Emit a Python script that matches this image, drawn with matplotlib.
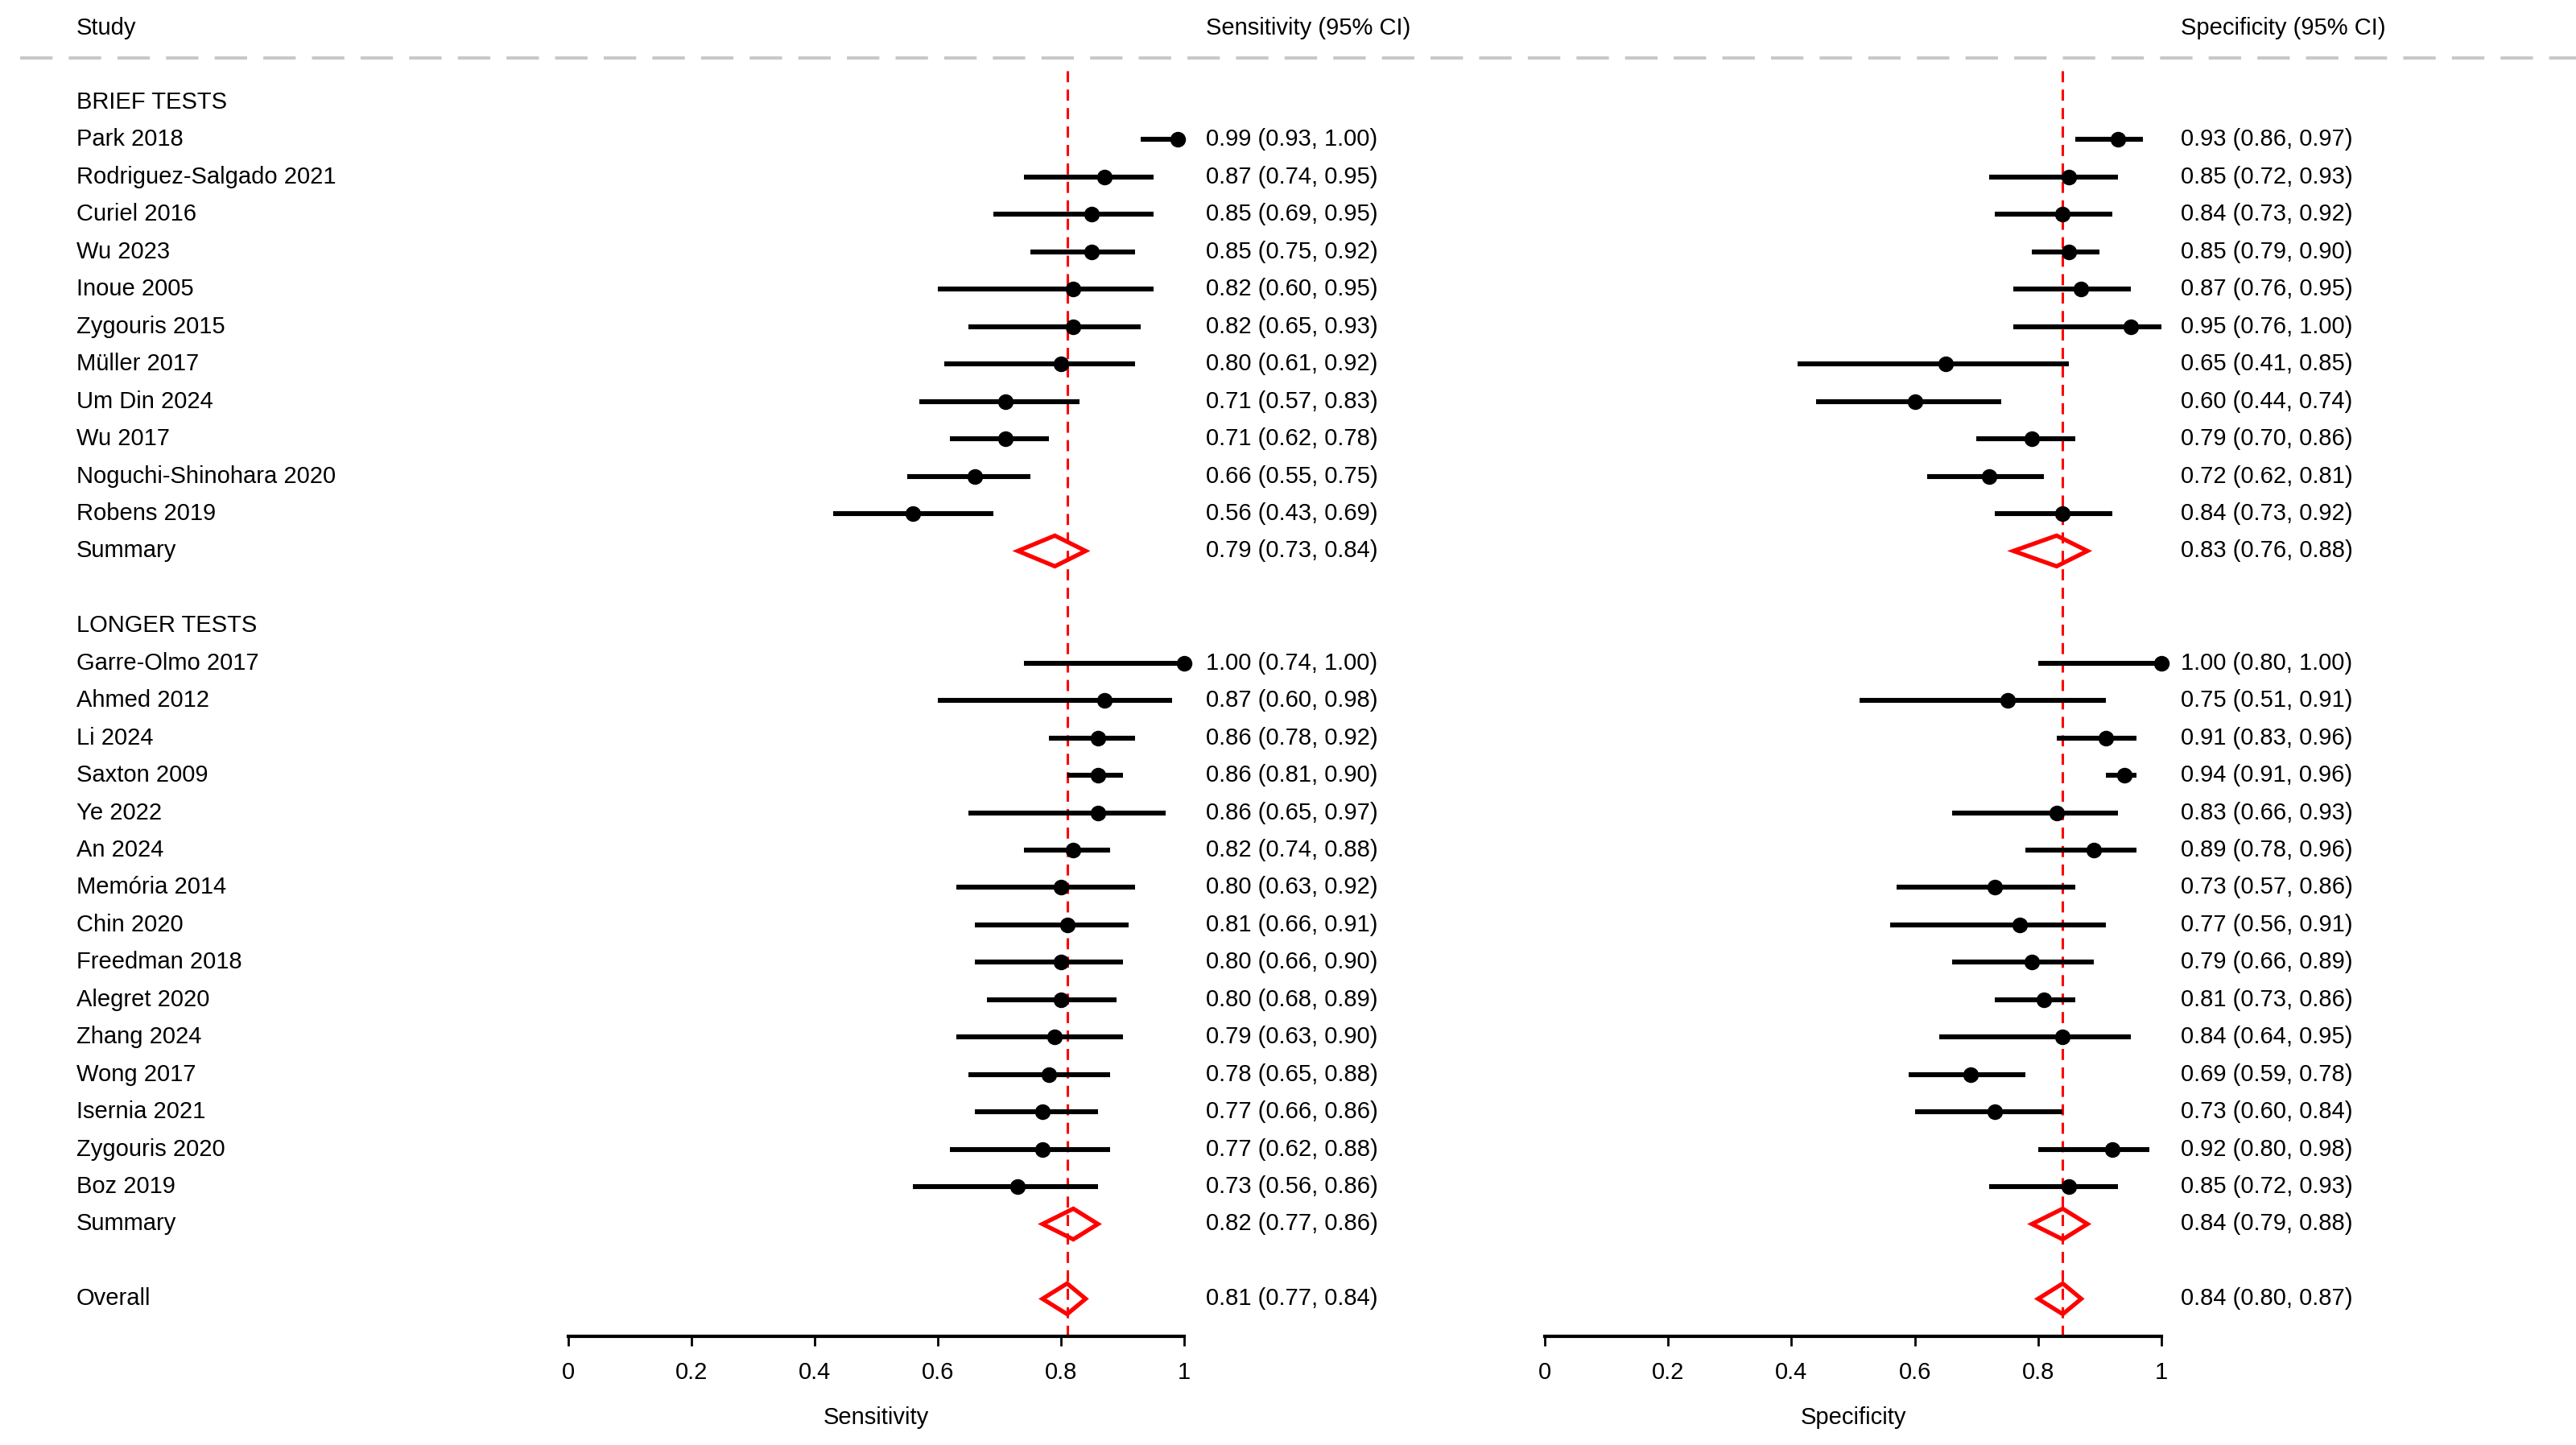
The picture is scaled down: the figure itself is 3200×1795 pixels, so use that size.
import matplotlib
matplotlib.use("Agg")
import matplotlib.pyplot as plt
import matplotlib.transforms as mtransforms
from matplotlib.lines import Line2D
from matplotlib.patches import Polygon

plt.rcParams['font.family'] = ['Liberation Sans', 'DejaVu Sans']

# ---- data ----
brief_studies = ["Park 2018", "Rodriguez-Salgado 2021", "Curiel 2016", "Wu 2023",
                 "Inoue 2005", "Zygouris 2015", "Müller 2017", "Um Din 2024",
                 "Wu 2017", "Noguchi-Shinohara 2020", "Robens 2019"]
brief_sens = [0.99, 0.87, 0.85, 0.85, 0.82, 0.82, 0.80, 0.71, 0.71, 0.66, 0.56]
brief_sens_lo = [0.93, 0.74, 0.69, 0.75, 0.60, 0.65, 0.61, 0.57, 0.62, 0.55, 0.43]
brief_sens_hi = [1.00, 0.95, 0.95, 0.92, 0.95, 0.93, 0.92, 0.83, 0.78, 0.75, 0.69]
brief_spec = [0.93, 0.85, 0.84, 0.85, 0.87, 0.95, 0.65, 0.60, 0.79, 0.72, 0.84]
brief_spec_lo = [0.86, 0.72, 0.73, 0.79, 0.76, 0.76, 0.41, 0.44, 0.70, 0.62, 0.73]
brief_spec_hi = [0.97, 0.93, 0.92, 0.90, 0.95, 1.00, 0.85, 0.74, 0.86, 0.81, 0.92]
brief_summary_sens = (0.79, 0.73, 0.84)
brief_summary_spec = (0.83, 0.76, 0.88)

longer_studies = ["Garre-Olmo 2017", "Ahmed 2012", "Li 2024", "Saxton 2009", "Ye 2022",
                  "An 2024", "Memória 2014", "Chin 2020", "Freedman 2018", "Alegret 2020",
                  "Zhang 2024", "Wong 2017", "Isernia 2021", "Zygouris 2020", "Boz 2019"]
longer_sens = [1.00, 0.87, 0.86, 0.86, 0.86, 0.82, 0.80, 0.81, 0.80, 0.80, 0.79, 0.78, 0.77, 0.77, 0.73]
longer_sens_lo = [0.74, 0.60, 0.78, 0.81, 0.65, 0.74, 0.63, 0.66, 0.66, 0.68, 0.63, 0.65, 0.66, 0.62, 0.56]
longer_sens_hi = [1.00, 0.98, 0.92, 0.90, 0.97, 0.88, 0.92, 0.91, 0.90, 0.89, 0.90, 0.88, 0.86, 0.88, 0.86]
longer_spec = [1.00, 0.75, 0.91, 0.94, 0.83, 0.89, 0.73, 0.77, 0.79, 0.81, 0.84, 0.69, 0.73, 0.92, 0.85]
longer_spec_lo = [0.80, 0.51, 0.83, 0.91, 0.66, 0.78, 0.57, 0.56, 0.66, 0.73, 0.64, 0.59, 0.60, 0.80, 0.72]
longer_spec_hi = [1.00, 0.91, 0.96, 0.96, 0.93, 0.96, 0.86, 0.91, 0.89, 0.86, 0.95, 0.78, 0.84, 0.98, 0.93]
longer_summary_sens = (0.82, 0.77, 0.86)
longer_summary_spec = (0.84, 0.79, 0.88)

overall_sens = (0.81, 0.77, 0.84)
overall_spec = (0.84, 0.80, 0.87)

ticks = [0, 0.2, 0.4, 0.6, 0.8, 1]
tick_labels = ["0", "0.2", "0.4", "0.6", "0.8", "1"]

# ---- row layout ----
rows = []  # (label, kind, sens, spec)
rows.append(("BRIEF TESTS", "head", None, None))
for i, s in enumerate(brief_studies):
    rows.append((s, "study", (brief_sens[i], brief_sens_lo[i], brief_sens_hi[i]),
                 (brief_spec[i], brief_spec_lo[i], brief_spec_hi[i])))
rows.append(("Summary", "sum", brief_summary_sens, brief_summary_spec))
rows.append(("", "blank", None, None))
rows.append(("LONGER TESTS", "head", None, None))
for i, s in enumerate(longer_studies):
    rows.append((s, "study", (longer_sens[i], longer_sens_lo[i], longer_sens_hi[i]),
                 (longer_spec[i], longer_spec_lo[i], longer_spec_hi[i])))
rows.append(("Summary", "sum", longer_summary_sens, longer_summary_spec))
rows.append(("", "blank", None, None))
rows.append(("Overall", "sum", overall_sens, overall_spec))

W, H = 3200, 1795
fig = plt.figure(figsize=(16, 8.975), dpi=200)

row0_px, row_step = 127, 46.45
top_px, axis_px = 73, 1660
ylim = ((axis_px - row0_px) / row_step, (top_px - row0_px) / row_step)

fs = 10.5
panels = [(706, 1471, 1498, "Sensitivity", 1), (1919, 2685, 2709, "Specificity", 2)]

for x0, x1, txt_x, name, col in panels:
    ax = fig.add_axes([x0 / W, 1 - axis_px / H, (x1 - x0) / W, (axis_px - top_px) / H])
    ax.set_xlim(0, 1)
    ax.set_ylim(*ylim)
    for sp in ["top", "right", "left"]:
        ax.spines[sp].set_visible(False)
    ax.spines["bottom"].set_linewidth(1.5)
    ax.set_yticks([])
    ax.set_xticks(ticks)
    ax.set_xticklabels(tick_labels, fontsize=fs)
    ax.tick_params(axis="x", length=4.3, width=1.0, pad=7)
    ax.set_xlabel(name, fontsize=fs, labelpad=10)

    ref = overall_sens[0] if col == 1 else overall_spec[0]
    ax.axvline(ref, ymin=0, ymax=0.995, color="red", lw=1.1, dashes=(4.5, 3))

    trans = mtransforms.blended_transform_factory(fig.transFigure, ax.transData)
    for r, (label, kind, sens, spec) in enumerate(rows):
        vals = sens if col == 1 else spec
        if col == 1 and label:
            ax.text(95 / W, r, label, transform=trans, fontsize=fs, va="center", ha="left")
        if vals is None:
            continue
        e, lo, hi = vals
        if kind == "study":
            ax.plot([lo, hi], [r, r], color="black", lw=2.2, solid_capstyle="butt", clip_on=False)
            ax.plot(e, r, "o", color="black", ms=6, clip_on=False)
        else:
            h = 0.41
            ax.add_patch(Polygon([(lo, r), (e, r - h), (hi, r), (e, r + h)], closed=True,
                                 fill=False, edgecolor="red", lw=1.9, clip_on=False))
        ax.text(txt_x / W, r, f"{e:.2f} ({lo:.2f}, {hi:.2f})", transform=trans,
                fontsize=fs, va="center", ha="left")

    fig.text(txt_x / W, 1 - 35 / H, f"{name} (95% CI)", fontsize=fs, va="center", ha="left")

fig.text(95 / W, 1 - 35 / H, "Study", fontsize=fs, va="center", ha="left")
fig.add_artist(Line2D([25 / W, 1], [1 - 71.5 / H, 1 - 71.5 / H], transform=fig.transFigure,
                      color="#c8c8c8", lw=1.45, dashes=(10, 5)))

fig.savefig("out.png", dpi=200, facecolor="white")
